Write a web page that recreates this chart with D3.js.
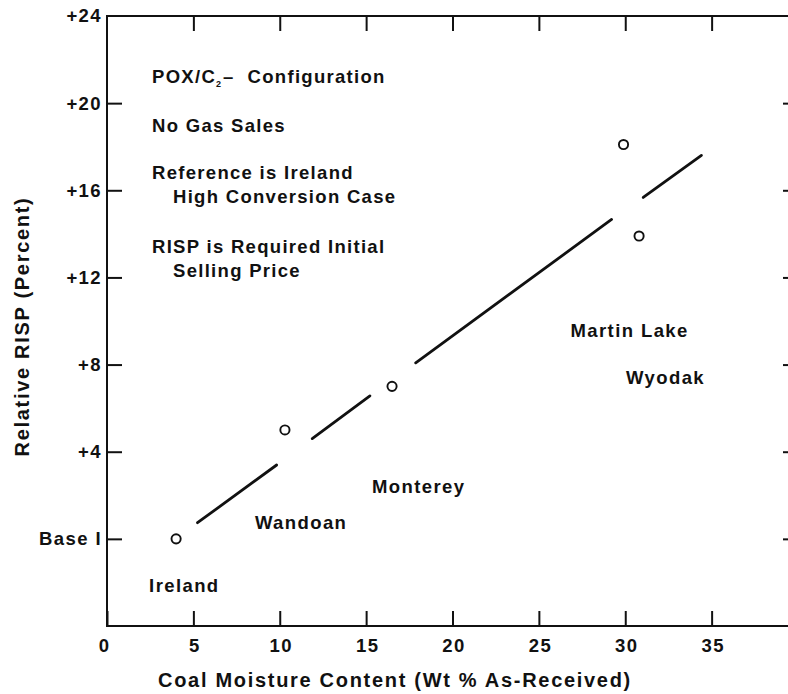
<!DOCTYPE html>
<html>
<head>
<meta charset="utf-8">
<script src="https://cdn.jsdelivr.net/npm/d3@7/dist/d3.min.js"></script>
<style>
  html, body { margin: 0; padding: 0; background: #fff; }
  svg text { font-family: "Liberation Sans", Arial, Helvetica, sans-serif; font-weight: bold; fill: #111; }
</style>
</head>
<body>
<svg id="chart" width="788" height="694"></svg>
<script>
// Coal samples: moisture content (wt % as-received) and RISP relative to the Ireland base case (%)
const sites    = ["Ireland", "Wandoan", "Monterey", "Martin Lake", "Wyodak"];
const moisture = [4.0, 10.3, 16.5, 29.9, 30.8];
const relRisp  = [0.0, 5.0, 7.0, 18.1, 13.9];

// Trend line, drawn as broken segments (gaps left around the sample markers)
const fitX0 = [5.24, 11.88, 17.87, 31.04];
const fitY0 = [0.74, 4.60, 8.08, 15.67];
const fitX1 = [9.82, 15.22, 29.21, 34.41];
const fitY1 = [3.39, 6.56, 14.66, 17.60];

// Axis ticks
const xTicks = [0, 5, 10, 15, 20, 25, 30, 35];
const yTicks = [0, 4, 8, 12, 16, 20, 24];
const yTickLabels = ["Base I", "+4", "+8", "+12", "+16", "+20", "+24"];

// Notes block
const notes = [
  { lines: ["POX/C|2|–\u00a0\u00a0Configuration"] },
  { lines: ["No Gas Sales"] },
  { lines: ["Reference is Ireland", "  High Conversion Case"] },
  { lines: ["RISP is Required Initial", "  Selling Price"] }
];

const xTitle = "Coal Moisture Content (Wt % As-Received)";
const yTitle = "Relative RISP (Percent)";

const svg = d3.select("#chart");

const x = d3.scaleLinear().domain([0, 40]).range([107, 798]);
const y = d3.scaleLinear().domain([-4, 24]).range([626, 16]);

const ink = "#111";

// Frame
svg.append("rect")
  .attr("x", x(0)).attr("y", y(24))
  .attr("width", x(40) - x(0)).attr("height", y(-4) - y(24))
  .attr("fill", "none").attr("stroke", ink).attr("stroke-width", 2);

function styleAxis(g) {
  g.select(".domain").remove();
  g.selectAll(".tick line").attr("stroke", ink).attr("stroke-width", 2);
  g.selectAll(".tick text").attr("fill", ink)
    .style("font-size", "18.5px").style("letter-spacing", "1.4px")
    .attr("font-family", null);
}

// Bottom axis with labels, ticks pointing inward
svg.append("g")
  .attr("transform", `translate(0,${y(-4)})`)
  .call(d3.axisBottom(x).tickValues(xTicks).tickSize(-15).tickPadding(13).tickFormat(d3.format("d")))
  .call(styleAxis)
  .call(g => g.selectAll(".tick text").attr("dx", d => d === 0 ? -3 : 1));

// Top axis, ticks only
svg.append("g")
  .attr("transform", `translate(0,${y(24)})`)
  .call(d3.axisTop(x).tickValues(xTicks.filter(d => d > 0)).tickSize(-15).tickFormat(""))
  .call(styleAxis);

// Left axis with labels
svg.append("g")
  .attr("transform", `translate(${x(0)},0)`)
  .call(d3.axisLeft(y).tickValues(yTicks).tickSize(-15).tickPadding(5)
    .tickFormat((d, i) => yTickLabels[i]))
  .call(styleAxis)
  .call(g => g.selectAll(".tick").filter(d => d === 24).select("line").remove());

// Right axis, ticks only
svg.append("g")
  .attr("transform", `translate(${x(40)},0)`)
  .call(d3.axisRight(y).tickValues(yTicks.filter(d => d < 24)).tickSize(-15).tickFormat(""))
  .call(styleAxis);

// Trend line segments
svg.append("g").selectAll("line")
  .data(d3.range(fitX0.length))
  .join("line")
  .attr("x1", i => x(fitX0[i])).attr("y1", i => y(fitY0[i]))
  .attr("x2", i => x(fitX1[i])).attr("y2", i => y(fitY1[i]))
  .attr("stroke", ink).attr("stroke-width", 2.8).attr("stroke-linecap", "round");

// Sample markers
svg.append("g").selectAll("circle")
  .data(d3.range(sites.length))
  .join("circle")
  .attr("cx", i => x(moisture[i])).attr("cy", i => y(relRisp[i]))
  .attr("r", 4.6)
  .attr("fill", "#fff").attr("stroke", ink).attr("stroke-width", 1.9);

// Sample names, offset from their markers
const nameOffset = {
  "Ireland":     [-27, 53],
  "Wandoan":     [-30, 99],
  "Monterey":    [-20, 107],
  "Martin Lake": [-53, 192],
  "Wyodak":      [-13, 148]
};
svg.append("g").selectAll("text")
  .data(d3.range(sites.length))
  .join("text")
  .attr("x", i => x(moisture[i]) + nameOffset[sites[i]][0])
  .attr("y", i => y(relRisp[i]) + nameOffset[sites[i]][1])
  .style("font-size", "18.5px").style("letter-spacing", "1.4px")
  .text(i => sites[i]);

// Notes
const noteX = 152, indent = 21;
const noteBaselines = [[83.3], [131.7], [179, 203.3], [252.7, 276.7]];
const notesG = svg.append("g")
  .style("font-size", "18.5px").style("letter-spacing", "1.3px");
notes.forEach((n, ni) => {
  n.lines.forEach((line, li) => {
    const t = notesG.append("text")
      .attr("x", noteX + (line.startsWith("  ") ? indent : 0))
      .attr("y", noteBaselines[ni][li]);
    const parts = line.trim().split("|");
    if (parts.length === 3) {
      t.append("tspan").text(parts[0]);
      t.append("tspan").attr("dy", 4).style("font-size", "9px").style("letter-spacing", "0px").text(parts[1]);
      t.append("tspan").attr("dy", -4).attr("dx", 2).text(parts[2]);
    } else {
      t.text(line.trim());
    }
  });
});

// Axis titles
svg.append("text")
  .attr("x", 395).attr("y", 687)
  .attr("text-anchor", "middle")
  .style("font-size", "20px").style("letter-spacing", "1.7px")
  .text(xTitle);

svg.append("text")
  .attr("transform", "translate(28.5,326.5) rotate(-90)")
  .attr("text-anchor", "middle")
  .style("font-size", "20px").style("letter-spacing", "1.7px")
  .text(yTitle);
</script>
</body>
</html>
